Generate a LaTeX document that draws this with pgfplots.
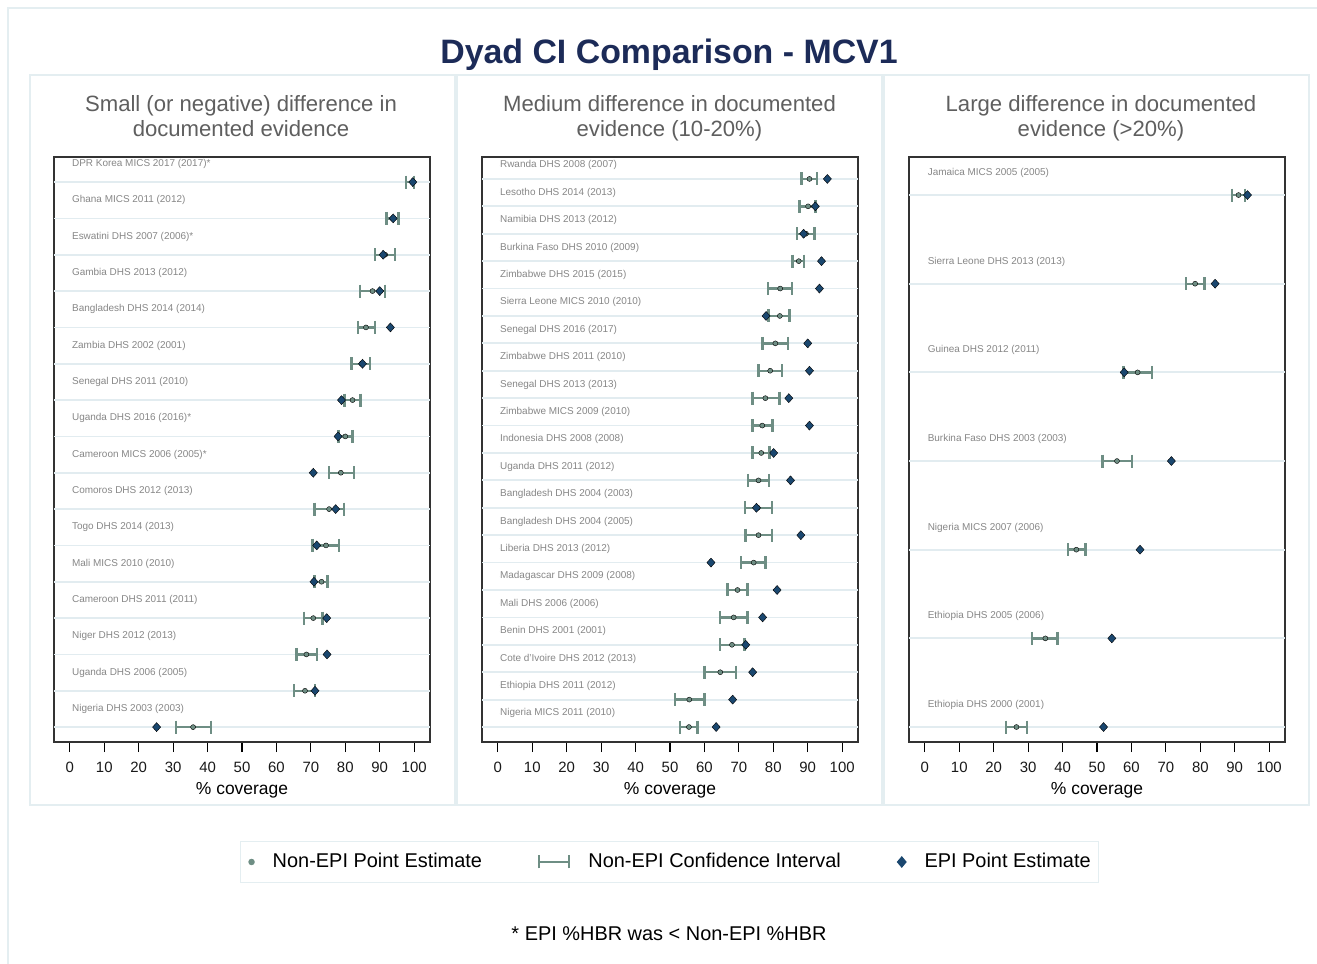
\documentclass[border=0pt]{standalone}
\usepackage{fontspec}
\setmainfont{Liberation Sans}
\usepackage{pgfplots}
\usepackage{pgfplotstable}
\pgfplotsset{compat=1.18}

\definecolor{cic}{RGB}{110,142,132}
\definecolor{epic}{RGB}{26,71,111}
\definecolor{gridc}{RGB}{226,236,240}
\definecolor{framec}{RGB}{228,238,241}
\definecolor{titlec}{RGB}{28,43,88}
\definecolor{subc}{RGB}{95,95,95}
\definecolor{labc}{RGB}{135,135,135}

% point estimates and labels
\pgfplotstableread[col sep=comma]{
y,pt,epi,label
16,99.8,99.6,DPR Korea MICS 2017 (2017)*
15,93.7,93.9,Ghana MICS 2011 (2012)
14,91.6,91.0,Eswatini DHS 2007 (2006)*
13,87.9,90.0,Gambia DHS 2013 (2012)
12,86.0,93.1,Bangladesh DHS 2014 (2014)
11,84.7,85.0,Zambia DHS 2002 (2001)
10,82.1,78.9,Senegal DHS 2011 (2010)
9,80.0,77.9,Uganda DHS 2016 (2016)*
8,78.7,70.7,Cameroon MICS 2006 (2005)*
7,75.3,77.2,Comoros DHS 2012 (2013)
6,74.4,71.7,Togo DHS 2014 (2013)
5,73.1,70.9,Mali MICS 2010 (2010)
4,70.7,74.6,Cameroon DHS 2011 (2011)
3,68.7,74.7,Niger DHS 2012 (2013)
2,68.3,71.2,Uganda DHS 2006 (2005)
1,35.8,25.2,Nigeria DHS 2003 (2003)
}\tabA
% confidence intervals (lower, upper) per row
\pgfplotstableread[col sep=comma]{
x,y
97.7,16
100.0,16
nan,nan
92.0,15
95.4,15
nan,nan
88.7,14
94.4,14
nan,nan
84.2,13
91.5,13
nan,nan
83.7,12
88.6,12
nan,nan
81.8,11
87.1,11
nan,nan
79.8,10
84.4,10
nan,nan
78.0,9
82.1,9
nan,nan
75.3,8
82.5,8
nan,nan
71.0,7
79.6,7
nan,nan
70.5,6
78.2,6
nan,nan
71.0,5
74.8,5
nan,nan
68.0,4
73.4,4
nan,nan
65.8,3
71.7,3
nan,nan
65.1,2
71.2,2
nan,nan
30.8,1
41.0,1
}\ciA

\pgfplotstableread[col sep=comma]{
y,pt,epi,label
21,90.5,95.7,Rwanda DHS 2008 (2007)
20,90.1,92.2,Lesotho DHS 2014 (2013)
19,89.5,88.8,Namibia DHS 2013 (2012)
18,87.4,94.0,Burkina Faso DHS 2010 (2009)
17,82.0,93.4,Zimbabwe DHS 2015 (2015)
16,81.9,77.9,Sierra Leone MICS 2010 (2010)
15,80.6,90.0,Senegal DHS 2016 (2017)
14,79.1,90.5,Zimbabwe DHS 2011 (2010)
13,77.7,84.5,Senegal DHS 2013 (2013)
12,76.8,90.5,Zimbabwe MICS 2009 (2010)
11,76.5,80.1,Indonesia DHS 2008 (2008)
10,75.7,85.0,Uganda DHS 2011 (2012)
9,75.5,75.1,Bangladesh DHS 2004 (2003)
8,75.7,88.0,Bangladesh DHS 2004 (2005)
7,74.3,61.9,Liberia DHS 2013 (2012)
6,69.6,81.1,Madagascar DHS 2009 (2008)
5,68.5,76.9,Mali DHS 2006 (2006)
4,68.0,72.0,Benin DHS 2001 (2001)
3,64.6,74.0,Cote d'Ivoire DHS 2012 (2013)
2,55.6,68.2,Ethiopia DHS 2011 (2012)
1,55.5,63.4,Nigeria MICS 2011 (2010)
}\tabB
\pgfplotstableread[col sep=comma]{
x,y
88.2,21
92.7,21
nan,nan
87.6,20
92.2,20
nan,nan
86.9,19
92.0,19
nan,nan
85.6,18
88.9,18
nan,nan
78.4,17
85.4,17
nan,nan
78.6,16
84.7,16
nan,nan
76.9,15
84.3,15
nan,nan
75.7,14
82.5,14
nan,nan
74.0,13
81.8,13
nan,nan
74.0,12
79.8,12
nan,nan
74.0,11
78.9,11
nan,nan
72.6,10
78.8,10
nan,nan
71.7,9
79.6,9
nan,nan
71.9,8
79.6,8
nan,nan
70.7,7
77.7,7
nan,nan
66.7,6
72.5,6
nan,nan
64.6,5
72.5,5
nan,nan
64.6,4
71.6,4
nan,nan
60.0,3
69.1,3
nan,nan
51.5,2
60.0,2
nan,nan
52.9,1
58.0,1
}\ciB

\pgfplotstableread[col sep=comma]{
y,pt,epi,label
7,91.1,93.7,Jamaica MICS 2005 (2005)
6,78.5,84.3,Sierra Leone DHS 2013 (2013)
5,61.8,57.9,Guinea DHS 2012 (2011)
4,55.8,71.6,Burkina Faso DHS 2003 (2003)
3,44.0,62.5,Nigeria MICS 2007 (2006)
2,35.0,54.3,Ethiopia DHS 2005 (2006)
1,26.6,51.9,Ethiopia DHS 2000 (2001)
}\tabC
\pgfplotstableread[col sep=comma]{
x,y
89.2,7
93.0,7
nan,nan
75.8,6
81.2,6
nan,nan
57.7,5
66.0,5
nan,nan
51.6,4
60.2,4
nan,nan
41.5,3
46.7,3
nan,nan
31.2,2
38.5,2
nan,nan
23.6,1
29.7,1
}\ciC

\pgfplotsset{
  panel/.style={
    scale only axis, width=376bp, height=585bp,
    xmin=-4.6, xmax=104.6,
    xtick={0,10,...,100},
    xtick pos=bottom,
    tick align=outside,
    xtick style={draw=black, line width=1.2bp},
    major tick length=10bp,
    ytick=\empty,
    unbounded coords=jump,
    axis line style={draw=black!80, line width=1.4bp},
    tick label style={font=\fontsize{15}{18}\selectfont, text=black!90},
    /pgf/number format/assume math mode=true,
    xticklabel style={anchor=base, yshift=-20bp},
    xlabel={\% coverage},
    every axis x label/.style={at={(axis description cs:0.5,0)}, anchor=base, yshift=-52bp, font=\fontsize{17.5}{21}\selectfont},
  },
  rowline/.style={forget plot, draw=gridc, line width=1.8bp, mark=none,
    quiver={u=109.2, v=0}},
  ciline/.style={forget plot, draw=cic, line width=2.4bp, mark=|, mark size=6.5bp,
    mark options={draw=cic, line width=2.4bp}},
  ptplot/.style={forget plot, only marks, mark=*, mark size=2.5bp,
    mark options={draw=none, fill=cic}},
  epiplot/.style={forget plot, only marks, mark=diamond*, mark size=4.5bp,
    mark options={draw=none, fill=epic, xscale=1.2}},
  labplot/.style={forget plot, only marks, mark=*, mark size=0pt, mark options={draw=none, fill=none},
    nodes near coords, point meta=explicit symbolic,
    every node near coord/.append style={anchor=west, inner sep=0pt, text=labc, font=\fontsize{10}{12}\selectfont}},
}

\begin{document}
\begin{tikzpicture}
\useasboundingbox (0,0) rectangle (1317bp,-964bp);
\fill[white] (0,0) rectangle (1317bp,-964bp);
\draw[framec, line width=1.2bp] (8bp,-964bp) -- (8bp,-8bp) -- (1317bp,-8bp);
\draw[framec, line width=1.2bp] (30bp,-75bp) rectangle (455bp,-805bp);
\draw[framec, line width=1.2bp] (457bp,-75bp) rectangle (882bp,-805bp);
\draw[framec, line width=1.2bp] (884bp,-75bp) rectangle (1309bp,-805bp);

\node[anchor=base, font=\fontsize{34}{40}\selectfont\bfseries, text=titlec] at (669bp,-63bp) {Dyad CI Comparison - MCV1};

\node[anchor=base, font=\fontsize{22.2}{26}\selectfont, text=subc] at (241bp,-111.5bp) {Small (or negative) difference in};
\node[anchor=base, font=\fontsize{22.2}{26}\selectfont, text=subc] at (241bp,-136bp) {documented evidence};
\node[anchor=base, font=\fontsize{22.2}{26}\selectfont, text=subc] at (669.5bp,-111.5bp) {Medium difference in documented};
\node[anchor=base, font=\fontsize{22.2}{26}\selectfont, text=subc] at (669.5bp,-136bp) {evidence (10-20\%)};
\node[anchor=base, font=\fontsize{22.2}{26}\selectfont, text=subc] at (1101bp,-111.5bp) {Large difference in documented};
\node[anchor=base, font=\fontsize{22.2}{26}\selectfont, text=subc] at (1101bp,-136bp) {evidence (>20\%)};

% Panel 1
\begin{axis}[panel, at={(54bp,-157bp)}, anchor=north west,
  ymin=0.59, ymax=16.69]
\addplot[rowline] table[x expr=-4.6, y=y]{\tabA};
\addplot[labplot] table[x expr=0.6, y expr=\thisrow{y}+0.5, meta=label]{\tabA};
\addplot[ciline] table[x=x, y=y]{\ciA};
\addplot[ptplot] table[x=pt, y=y]{\tabA};
\addplot[epiplot] table[x=epi, y=y]{\tabA};
\end{axis}

% Panel 2
\begin{axis}[panel, at={(482bp,-157bp)}, anchor=north west,
  ymin=0.453, ymax=21.80,
  legend columns=3, legend cell align=left,
  legend style={at={(0.4987,-0.2051)}, anchor=center, draw=framec, line width=1.2bp, fill=white,
    font=\fontsize{20}{24}\selectfont, inner xsep=8bp, inner ysep=11bp,
    nodes={inner sep=0pt, text height=15bp, text depth=4bp},
    /tikz/every odd column/.append style={column sep=18bp},
    /tikz/every even column/.append style={column sep=56bp}}]
\addlegendimage{legend image code/.code={\fill[cic] (0bp,0bp) circle (2.6bp);}}
\addlegendentry{Non-EPI Point Estimate}
\addlegendimage{legend image code/.code={\draw[cic, line width=2.4bp] (0bp,0bp) -- (30bp,0bp) (0bp,-6.5bp) -- (0bp,6.5bp) (30bp,-6.5bp) -- (30bp,6.5bp);}}
\addlegendentry{Non-EPI Confidence Interval}
\addlegendimage{legend image code/.code={\fill[epic] (0bp,-5bp) -- (4.2bp,0bp) -- (0bp,5bp) -- (-4.2bp,0bp) -- cycle;}}
\addlegendentry{EPI Point Estimate}
\addplot[rowline] table[x expr=-4.6, y=y]{\tabB};
\addplot[labplot] table[x expr=0.6, y expr=\thisrow{y}+0.5, meta=label]{\tabB};
\addplot[ciline] table[x=x, y=y]{\ciB};
\addplot[ptplot] table[x=pt, y=y]{\tabB};
\addplot[epiplot] table[x=epi, y=y]{\tabB};
\end{axis}

% Panel 3
\begin{axis}[panel, at={(909bp,-157bp)}, anchor=north west,
  ymin=0.831, ymax=7.429]
\addplot[rowline] table[x expr=-4.6, y=y]{\tabC};
\addplot[labplot] table[x expr=0.8, y expr=\thisrow{y}+0.25, meta=label]{\tabC};
\addplot[ciline] table[x=x, y=y]{\ciC};
\addplot[ptplot] table[x=pt, y=y]{\tabC};
\addplot[epiplot] table[x=epi, y=y]{\tabC};
\end{axis}

\node[anchor=base, font=\fontsize{20}{24}\selectfont] at (669bp,-940bp) {* EPI \%HBR was < Non-EPI \%HBR};
\end{tikzpicture}
\end{document}
